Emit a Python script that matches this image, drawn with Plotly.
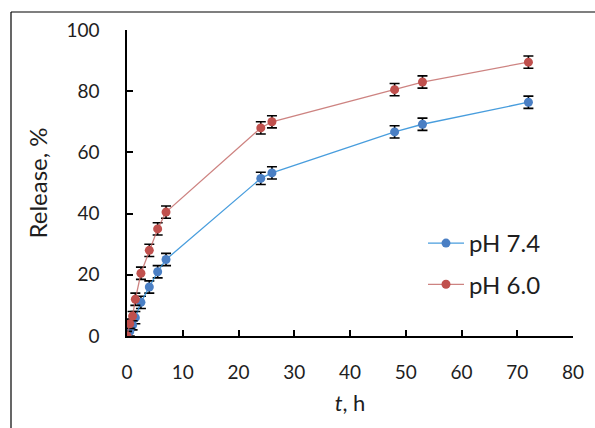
import plotly.graph_objects as go

t_hours = [0, 0.5, 1, 1.5, 2.5, 4, 5.5, 7, 24, 26, 48, 53, 72]
release_ph74 = [0, 1.5, 3.5, 6, 11, 16, 21, 25, 51.5, 53.3, 66.7, 69.2, 76.4]
release_ph60 = [0, 4, 6.5, 12, 20.5, 28, 35, 40.5, 68, 70, 80.5, 83, 89.5]
err_ph74 = [1.5, 1.5, 1.5, 2, 2, 2, 2, 2, 2, 2, 2, 2, 2]
err_ph60 = [1.5, 1.5, 1.5, 2, 2, 2, 2, 2, 2, 2, 2, 2, 2]
series_names = ["pH 7.4", "pH 6.0"]

FONT = "Lato"
TXT = "#1e1e1e"

fig = go.Figure()
fig.add_trace(go.Scatter(
    x=t_hours, y=release_ph74, name=series_names[0], mode="lines+markers",
    line=dict(color="rgba(40,140,215,0.85)", width=1.3),
    marker=dict(color="#4a7fc4", size=9),
    error_y=dict(type="data", array=err_ph74, visible=True, color="black", thickness=1.6, width=5),
    legendgroup="a",
))
fig.add_trace(go.Scatter(
    x=t_hours, y=release_ph60, name=series_names[1], mode="lines+markers",
    line=dict(color="rgba(192,100,98,0.8)", width=1.3),
    marker=dict(color="#c0504d", size=9),
    error_y=dict(type="data", array=err_ph60, visible=True, color="black", thickness=1.6, width=5),
    legendgroup="b",
))

L, R, T, B = 127, 22, 30, 92
W, H = 595, 428
pw = W - L - R
ph = H - T - B

fig.update_layout(
    width=W, height=H,
    margin=dict(l=L, r=R, t=T, b=B, pad=0),
    paper_bgcolor="white", plot_bgcolor="white",
    font=dict(family=FONT, size=19, color=TXT),
    showlegend=True,
    legend=dict(
        x=(423 - L) / pw, y=(H - B - 221) / ph, xanchor="left", yanchor="top",
        bgcolor="rgba(0,0,0,0)", font=dict(size=24, family=FONT, color=TXT),
        tracegroupgap=7, traceorder="grouped", itemwidth=36,
    ),
    xaxis=dict(
        range=[0, 80], tickvals=list(range(0, 81, 10)),
        showgrid=False, zeroline=False, showline=True, linecolor="black", linewidth=1.5,
        ticks="inside", ticklen=6, tickwidth=1.5, tickcolor="black",
        ticklabelstandoff=18,
        title=dict(text="<i>t</i>, h", standoff=14, font=dict(size=22, family=FONT, color=TXT)),
    ),
    yaxis=dict(
        range=[0, 100], tickvals=list(range(0, 101, 20)),
        showgrid=False, zeroline=False, showline=True, linecolor="black", linewidth=1.5,
        ticks="inside", ticklen=6, tickwidth=1.5, tickcolor="black",
        ticklabelstandoff=22,
        title=dict(text="Release, %", standoff=12, font=dict(size=24, family=FONT, color=TXT)),
    ),
    shapes=[
        dict(type="line", xref="paper", yref="paper",
             x0=(11 - L) / pw, x1=(600 - L) / pw, y0=(H - B - 12) / ph, y1=(H - B - 12) / ph,
             line=dict(color="black", width=1.2)),
        dict(type="line", xref="paper", yref="paper",
             x0=(11 - L) / pw, x1=(11 - L) / pw, y0=(H - B - 12) / ph, y1=(H - B - 440) / ph,
             line=dict(color="black", width=1.2)),
    ],
)

fig.write_html("out.html", config={"displayModeBar": False},
               post_script="document.body.style.margin='0';document.body.style.overflow='hidden';")
